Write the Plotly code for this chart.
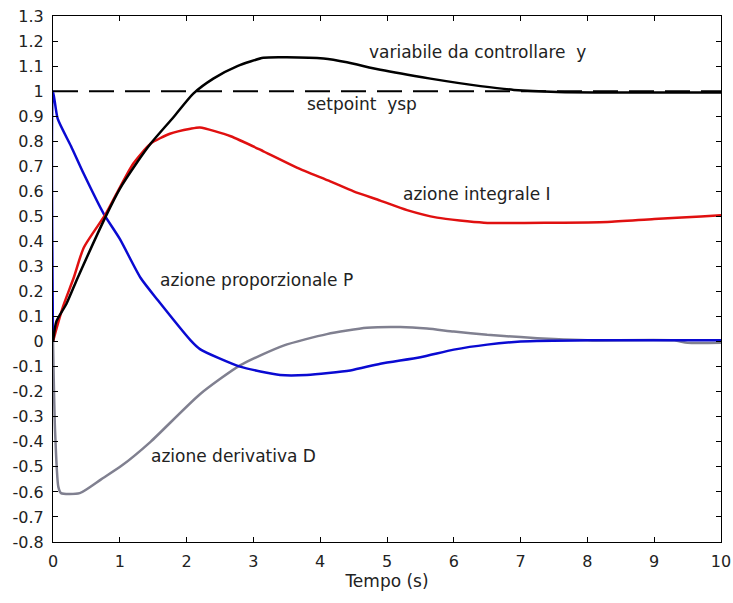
import plotly.graph_objects as go

# Controlled variable y
t_y = [0, 0.05, 0.2, 0.37, 0.79, 1.0, 1.27, 1.46, 1.8, 2.1, 2.4, 2.76, 3.15, 3.5, 4.05, 4.4, 4.9, 5.65, 6.4, 6.9, 7.55, 8.5, 10]
y_vals = [0, 0.08, 0.15, 0.255, 0.50, 0.61, 0.72, 0.79, 0.895, 0.99, 1.05, 1.10, 1.133, 1.135, 1.13, 1.115, 1.085, 1.05, 1.02, 1.005, 0.997, 0.995, 0.995]

# Integral action I
t_i = [0, 0.05, 0.15, 0.31, 0.46, 0.79, 0.97, 1.2, 1.46, 1.75, 2.06, 2.2, 2.66, 3.15, 3.65, 4.15, 4.5, 4.9, 5.3, 5.75, 6.45, 7.5, 8.3, 9.0, 9.7, 10]
i_vals = [0, 0.05, 0.14, 0.255, 0.375, 0.51, 0.60, 0.71, 0.79, 0.83, 0.85, 0.855, 0.82, 0.76, 0.695, 0.64, 0.60, 0.563, 0.525, 0.495, 0.475, 0.475, 0.478, 0.49, 0.50, 0.505]

# Proportional action P
t_p = [0, 0, 0.07, 0.27, 0.46, 0.76, 1.0, 1.31, 1.57, 2.06, 2.2, 2.8, 3.4, 3.8, 4.45, 4.9, 5.5, 6.0, 6.5, 7.0, 8.0, 10]
p_vals = [0, 1.0, 0.89, 0.78, 0.67, 0.51, 0.41, 0.255, 0.165, 0.005, -0.03, -0.1, -0.133, -0.133, -0.115, -0.088, -0.062, -0.032, -0.012, 0.0, 0.005, 0.005]

# Derivative action D
t_d = [0, 0.03, 0.08, 0.12, 0.4, 0.72, 1.03, 1.46, 2.2, 2.8, 3.45, 4.1, 4.7, 5.2, 5.6, 6.0, 6.5, 7.0, 7.5, 8.0, 9.3, 9.5, 10]
d_vals = [0, -0.35, -0.58, -0.605, -0.605, -0.55, -0.495, -0.40, -0.21, -0.095, -0.016, 0.03, 0.055, 0.058, 0.052, 0.04, 0.027, 0.018, 0.01, 0.005, 0.005, -0.005, -0.005]

# Setpoint
t_sp = [0, 10]
sp_vals = [1, 1]

x_ticks = [0, 1, 2, 3, 4, 5, 6, 7, 8, 9, 10]
y_ticks = [1.3, 1.2, 1.1, 1, 0.9, 0.8, 0.7, 0.6, 0.5, 0.4, 0.3, 0.2, 0.1, 0, -0.1, -0.2, -0.3, -0.4, -0.5, -0.6, -0.7, -0.8]
y_tick_text = [("%g" % v) for v in y_ticks]

labels = [
    ("variabile da controllare  y", 6.35, 1.155),
    ("setpoint  ysp", 4.63, 0.95),
    ("azione integrale I", 6.35, 0.59),
    ("azione proporzionale P", 3.05, 0.245),
    ("azione derivativa D", 2.7, -0.455),
]

FONT = "DejaVu Sans, Verdana, sans-serif"

fig = go.Figure()
fig.add_trace(go.Scatter(x=t_sp, y=sp_vals, mode="lines",
                         line=dict(color="black", width=2, dash="25px,11px")))
fig.add_trace(go.Scatter(x=t_d, y=d_vals, mode="lines",
                         line=dict(color="#808090", width=2.5, shape="spline", smoothing=0.6)))
fig.add_trace(go.Scatter(x=t_p, y=p_vals, mode="lines",
                         line=dict(color="#0a0ad2", width=2.5, shape="spline", smoothing=0.6)))
fig.add_trace(go.Scatter(x=t_i, y=i_vals, mode="lines",
                         line=dict(color="#e01010", width=2.5, shape="spline", smoothing=0.6)))
fig.add_trace(go.Scatter(x=t_y, y=y_vals, mode="lines",
                         line=dict(color="black", width=2.5, shape="spline", smoothing=0.6)))

for txt, x, y in labels:
    fig.add_annotation(x=x, y=y, text=txt, showarrow=False,
                       font=dict(family=FONT, size=17, color="#222"))

axis_common = dict(showline=True, linecolor="black", linewidth=1, mirror="ticks",
                   ticks="inside", ticklen=5, tickcolor="black", showgrid=False,
                   zeroline=False, automargin=False, ticklabelstandoff=5,
                   tickfont=dict(family=FONT, size=16, color="#222"))

fig.update_xaxes(range=[0, 10], tickvals=x_ticks,
                 title=dict(text="Tempo (s)", standoff=4,
                            font=dict(family=FONT, size=17, color="#222")),
                 **axis_common)
fig.update_yaxes(range=[-0.8, 1.3], tickvals=y_ticks, ticktext=y_tick_text, **axis_common)

fig.update_layout(width=733, height=603, margin=dict(l=53, r=12, t=16, b=61),
                  plot_bgcolor="white", paper_bgcolor="white", showlegend=False)

fig.write_html("out.html")
